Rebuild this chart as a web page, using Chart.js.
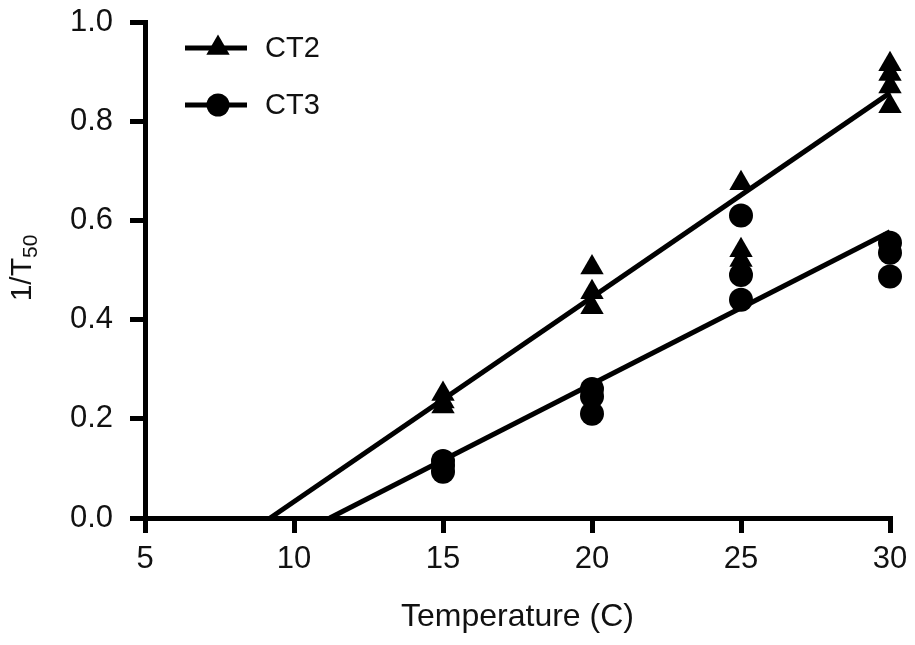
<!DOCTYPE html>
<html><head><meta charset="utf-8">
<script src="https://cdn.jsdelivr.net/npm/chart.js@4/dist/chart.umd.min.js"></script>
<style>html,body{margin:0;padding:0;background:#fff}#wrap{width:915px;height:645px}</style>
</head><body><div id="wrap"><canvas id="c" width="915" height="645"></canvas></div>
<script>
const ct2X = [15,15,15,20,20,20,25,25,25,30,30,30,30];
const ct2Y = [0.25,0.235,0.225,0.505,0.455,0.425,0.675,0.54,0.52,0.915,0.895,0.87,0.83];
const ct3X = [15,15,15,20,20,20,25,25,25,30,30,30];
const ct3Y = [0.115,0.105,0.093,0.26,0.245,0.21,0.61,0.49,0.44,0.555,0.535,0.487];
const ct2FitX = [9.2,30], ct2FitY = [0,0.857];
const ct3FitX = [11.2,30], ct3FitY = [0,0.577];
const xTicks = [5,10,15,20,25,30];
const yTicks = [0,0.2,0.4,0.6,0.8,1.0];
const seriesLabels = ['CT2','CT3'];
const xTitle = 'Temperature (C)';
const yTitleMain = '1/T', yTitleSub = '50';

const zip = (xs, ys) => xs.map((x,i)=>({x:x,y:ys[i]}));
const FONT = '"Liberation Sans", Arial, sans-serif';

const legendPlugin = {
  id:'customLegend',
  afterDraw(chart){
    const ctx = chart.ctx;
    ctx.save();
    const rows = [{label:seriesLabels[0], style:'triangle', y:48},{label:seriesLabels[1], style:'circle', y:105}];
    rows.forEach(r=>{
      ctx.strokeStyle='#000'; ctx.lineWidth=5;
      ctx.beginPath(); ctx.moveTo(185,r.y); ctx.lineTo(247,r.y); ctx.stroke();
      ctx.fillStyle='#000';
      ctx.beginPath();
      if(r.style==='triangle'){
        const R=13.5;
        ctx.moveTo(218, r.y-R); ctx.lineTo(218+R*0.866, r.y+R/2); ctx.lineTo(218-R*0.866, r.y+R/2); ctx.closePath();
      } else {
        ctx.arc(218, r.y, 11.5, 0, Math.PI*2);
      }
      ctx.fill();
      ctx.font = '29px '+FONT; ctx.textBaseline='middle'; ctx.textAlign='left';
      ctx.fillStyle='#111';
      ctx.fillText(r.label, 265, r.y+1);
    });
    // y title with subscript
    ctx.translate(23, 268);
    ctx.rotate(-Math.PI/2);
    ctx.font = '30px '+FONT;
    const w1 = ctx.measureText(yTitleMain).width;
    ctx.font = '21px '+FONT;
    const w2 = ctx.measureText(yTitleSub).width;
    const total = w1 + w2;
    ctx.textAlign='left'; ctx.textBaseline='middle'; ctx.fillStyle='#111';
    ctx.font = '30px '+FONT;
    ctx.fillText(yTitleMain, -total/2, 0);
    ctx.font = '21px '+FONT;
    ctx.fillText(yTitleSub, -total/2 + w1, 8);
    ctx.restore();
  }
};

new Chart(document.getElementById('c'), {
  type:'scatter',
  data:{datasets:[
    {label:seriesLabels[0]+' fit', data:zip(ct2FitX,ct2FitY), showLine:true, borderColor:'#000', borderWidth:5, pointRadius:0, order:2},
    {label:seriesLabels[1]+' fit', data:zip(ct3FitX,ct3FitY), showLine:true, borderColor:'#000', borderWidth:5, pointRadius:0, order:2},
    {label:seriesLabels[0], data:zip(ct2X,ct2Y), pointStyle:'triangle', pointRadius:13.5, backgroundColor:'#000', borderColor:'#000', borderWidth:0, order:1},
    {label:seriesLabels[1], data:zip(ct3X,ct3Y), pointStyle:'circle', pointRadius:12, backgroundColor:'#000', borderColor:'#000', borderWidth:0, order:1}
  ]},
  options:{
    responsive:false, animation:false, clip:false,
    devicePixelRatio:1,
    layout:{padding:{left:0,right:25,top:22,bottom:0}},
    plugins:{legend:{display:false}, tooltip:{enabled:false}},
    scales:{
      x:{type:'linear', min:5, max:30,
        afterBuildTicks(s){ s.ticks = xTicks.map(v=>({value:v})); },
        afterFit(s){ s.height = 127; s.paddingLeft = 0; s.paddingRight = 0; },
        border:{display:true, color:'#000', width:5},
        grid:{display:true, drawOnChartArea:false, drawTicks:true, tickLength:15, tickWidth:5, color:'#000', lineWidth:5},
        ticks:{font:{family:FONT, size:31}, color:'#111', padding:8, maxRotation:0},
        title:{display:true, text:xTitle, font:{family:FONT, size:32}, color:'#111', padding:{top:4, bottom:9}}
      },
      y:{type:'linear', min:0, max:1,
        afterBuildTicks(s){ s.ticks = yTicks.map(v=>({value:v})); },
        afterFit(s){ s.width = 145; s.paddingTop = 0; s.paddingBottom = 0; },
        border:{display:true, color:'#000', width:5},
        grid:{display:true, drawOnChartArea:false, drawTicks:true, tickLength:15, tickWidth:5, color:'#000', lineWidth:5},
        ticks:{font:{family:FONT, size:31}, color:'#111', padding:17, callback:v=>Number(v).toFixed(1)}
      }
    }
  },
  plugins:[legendPlugin]
});
</script></body></html>
